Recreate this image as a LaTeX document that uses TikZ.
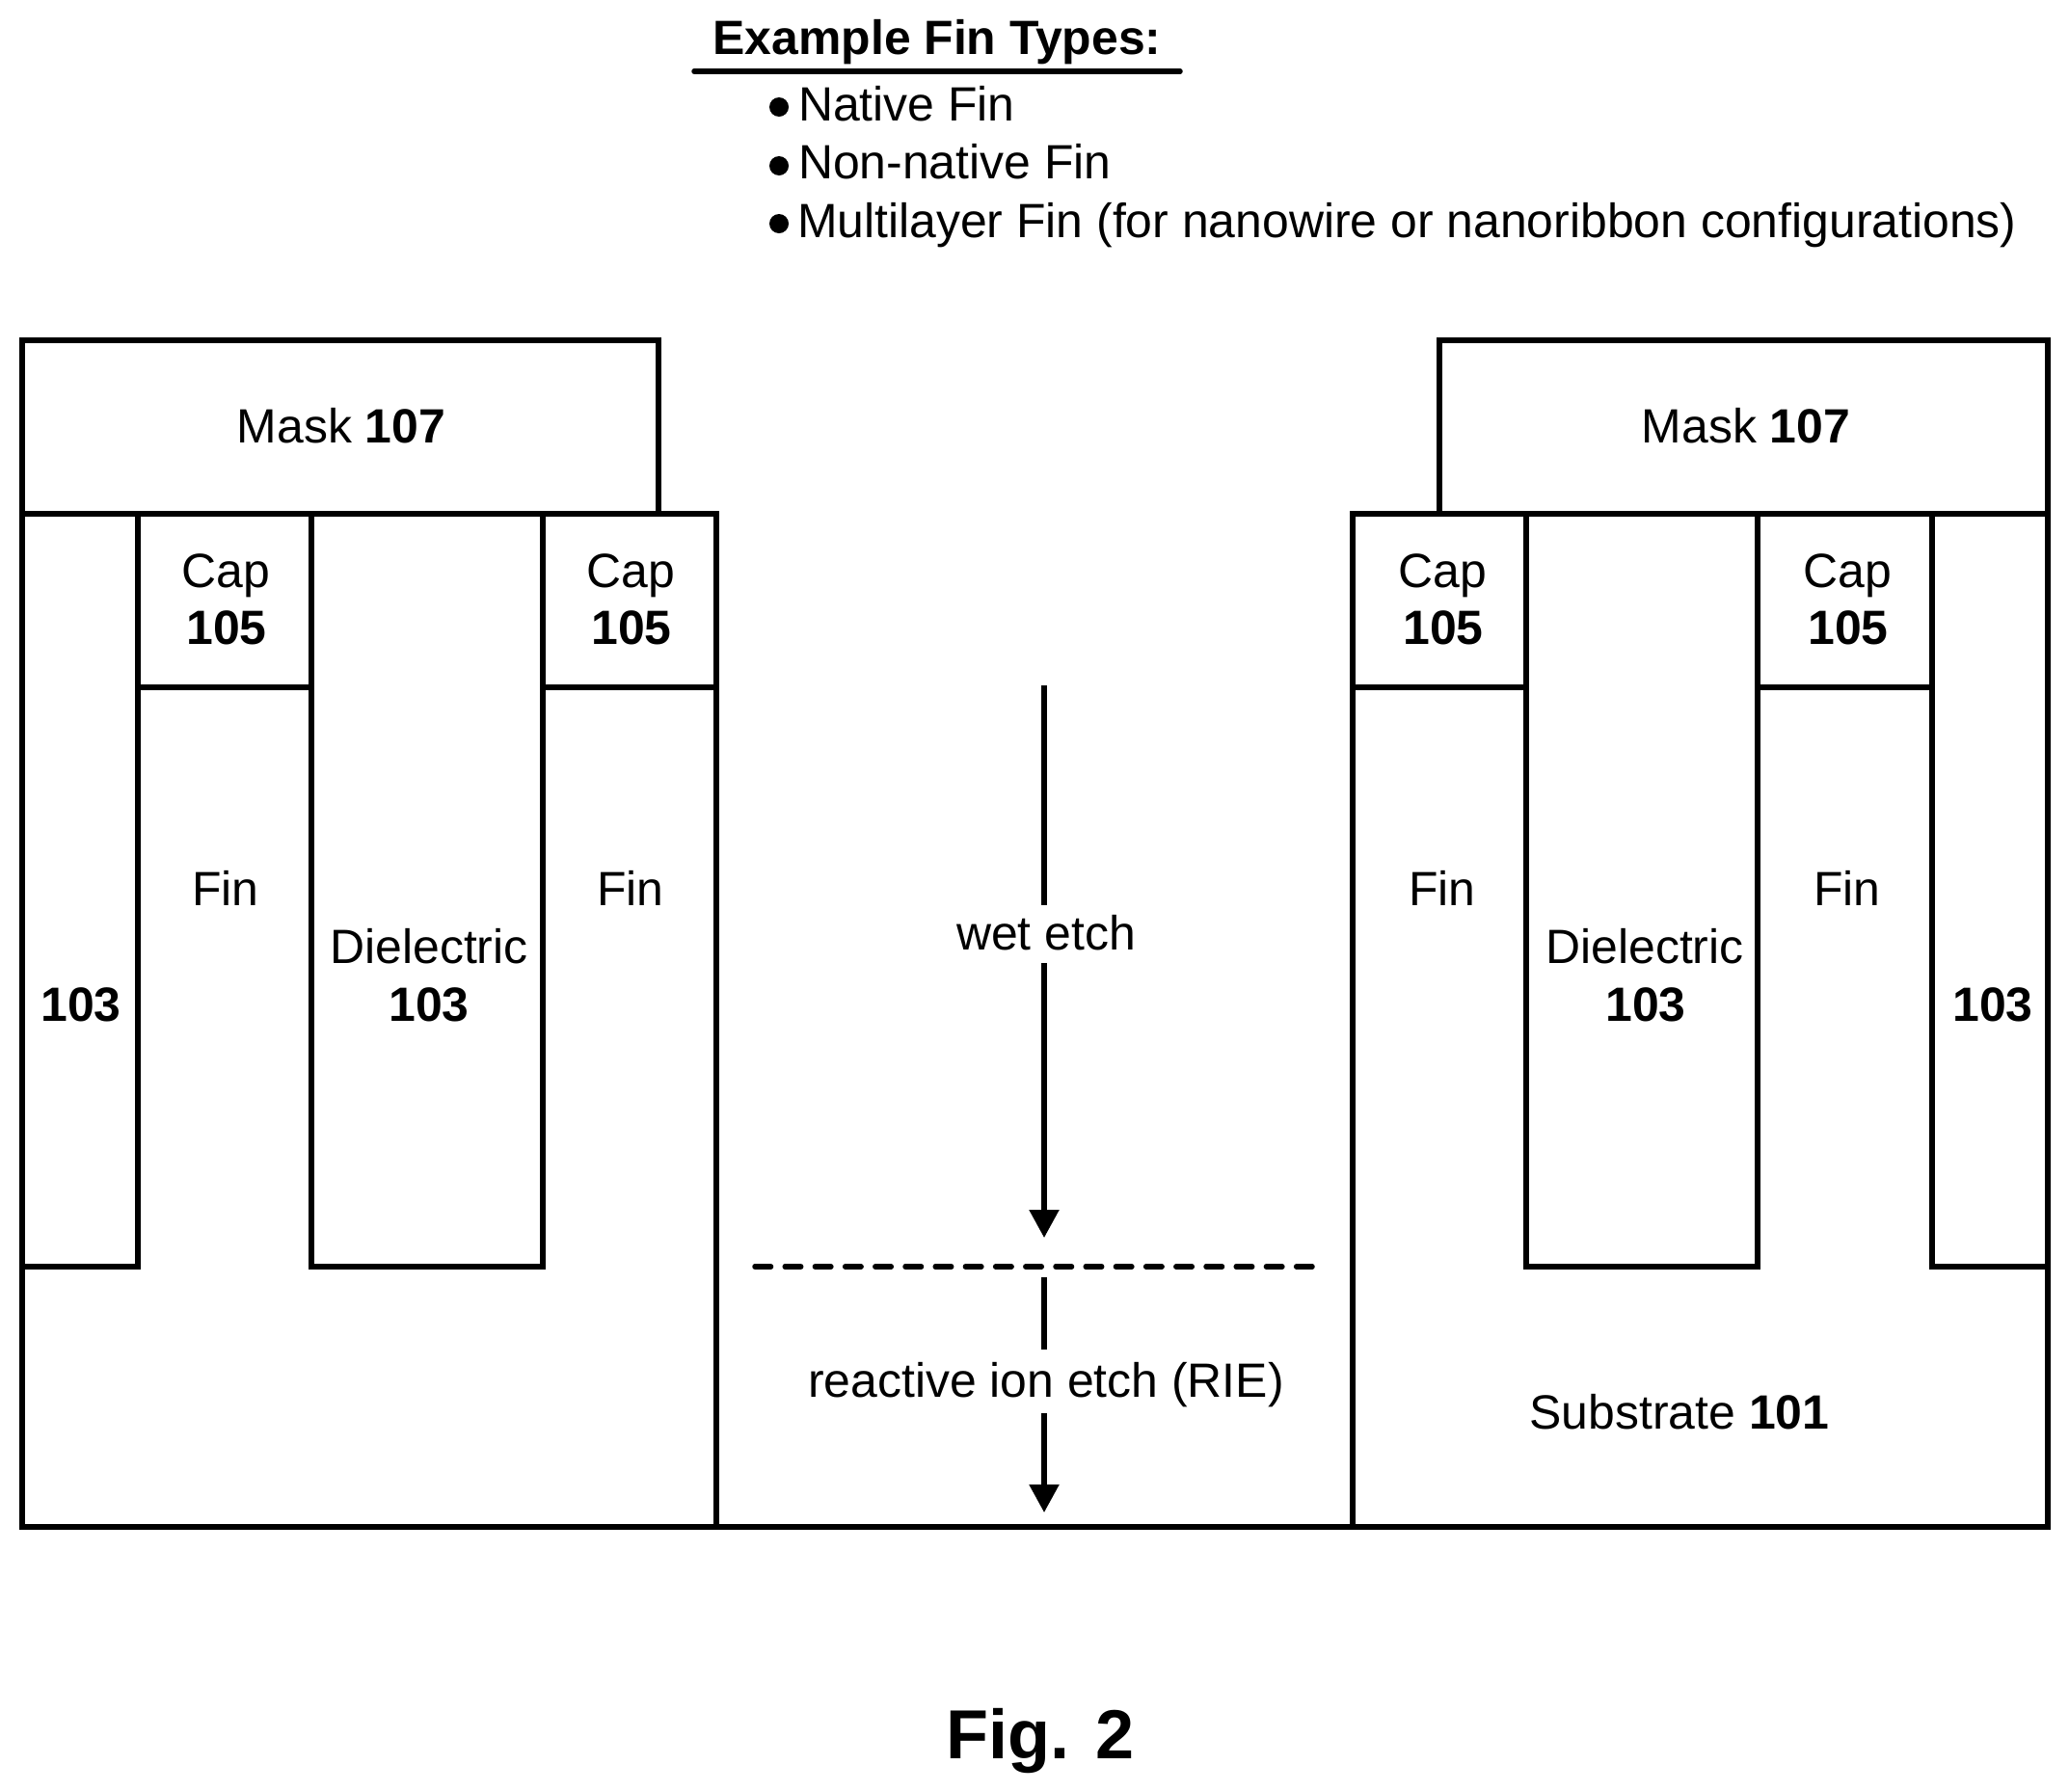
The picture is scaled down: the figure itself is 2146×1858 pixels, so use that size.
\documentclass[tikz,border=0pt]{standalone}
\usepackage{fontspec}
\setmainfont{Liberation Sans}
\usetikzlibrary{arrows.meta}
\tikzset{
  struct/.style={line width=2.7pt,line cap=square,line join=miter},
  lab/.style={anchor=base,inner sep=0pt,outer sep=0pt,align=center,font=\fontsize{24.95pt}{30pt}\selectfont},
  listitem/.style={lab,anchor=base west},
  dot/.style={circle,fill=black,inner sep=0pt,minimum size=10pt},
  etch/.style={line width=2.7pt,-{Triangle[width=15pt,length=14.5pt]}},
  etchline/.style={line width=2.7pt},
  level/.style={line width=2.75pt,line cap=round,dash pattern=on 8.25pt off 7.35pt},
}
\begin{document}
\begin{tikzpicture}[x=0.5pt,y=-0.5pt]
\useasboundingbox[fill=white] (0,0) rectangle (2146,1858);
% heading
\node[lab,font=\fontsize{24.95pt}{30pt}\selectfont\bfseries] (head) at (972,56) {Example Fin Types:};
\coordinate (ulL) at (720,74);
\coordinate (ulR) at (1224,74);
\draw[line width=2.75pt,line cap=round] (ulL) -- (ulR);
\node[dot] (d1) at (808,111) {};
\node[dot] (d2) at (808,172) {};
\node[dot] (d3) at (808,232) {};
\node[listitem] (l1) at (828,125) {Native Fin};
\node[listitem] (l2) at (828,185) {Non-native Fin};
\node[listitem] (l3) at (827,246) {Multilayer Fin (for nanowire or nanoribbon configurations)};
% left structure
\draw[struct] (23,533) rectangle (683,353);
\draw[struct] (23,533) -- (743,533) -- (743,1584) -- (23,1584) -- cycle;
\draw[struct] (23,1314) -- (143,1314) -- (143,533);
\draw[struct] (323,533) -- (323,1314) -- (563,1314) -- (563,533);
\draw[struct] (143,713) -- (323,713);
\draw[struct] (563,713) -- (743,713);
% right structure
\draw[struct] (1493,533) rectangle (2124,353);
\draw[struct] (1403,533) -- (2124,533) -- (2124,1584) -- (1403,1584) -- cycle;
\draw[struct] (1583,533) -- (1583,1314) -- (1823,1314) -- (1823,533);
\draw[struct] (2004,533) -- (2004,1314) -- (2124,1314);
\draw[struct] (1403,713) -- (1583,713);
\draw[struct] (1823,713) -- (2004,713);
\draw[struct] (743,1584) -- (1403,1584);
% labels
\node[lab] (m1) at (354,459) {Mask \textbf{107}};
\node[lab] (m2) at (1811,459) {Mask \textbf{107}};
\foreach \n/\x in {a/234,b/654,c/1496,d/1916}{
  \node[lab] (cap\n) at (\x,609) {Cap};
  \node[lab] (num\n) at (\x+1,668) {\textbf{105}};
  \node[lab] (fin\n) at (\x,939) {Fin};
}
\node[lab] (diel1) at (445,999) {Dielectric};
\node[lab] (dn1) at (445,1059) {\textbf{103}};
\node[lab] (diel2) at (1706,999) {Dielectric};
\node[lab] (dn2) at (1707,1059) {\textbf{103}};
\node[lab] (ol) at (84,1059) {\textbf{103}};
\node[lab] (or) at (2067,1059) {\textbf{103}};
\node[lab] (sub) at (1742,1482) {Substrate \textbf{101}};
% etch arrows
\coordinate (s1) at (1083,711);
\coordinate (e1) at (1083,1284);
\coordinate (s2) at (1083,1325);
\coordinate (e2) at (1083,1569);
\node[lab,text height=23pt,text depth=7pt] (wet) at (1085,985) {wet etch};
\node[lab,text height=24.5pt,text depth=8.5pt] (rie) at (1085,1449) {reactive ion etch (RIE)};
\draw[etchline] (s1) -- (s1 |- wet.north);
\draw[etch] (s1 |- wet.south) -- (e1);
\draw[etchline] (s2) -- (s2 |- rie.north);
\draw[etch] (s2 |- rie.south) -- (e2);
\coordinate (dl) at (783,1314);
\coordinate (dr) at (1361,1314);
\draw[level] (dl) -- (dr);
% title
\node[lab,font=\fontsize{36pt}{44pt}\selectfont\bfseries] (fig) at (1079,1824) {Fig. 2};
\end{tikzpicture}
\end{document}
